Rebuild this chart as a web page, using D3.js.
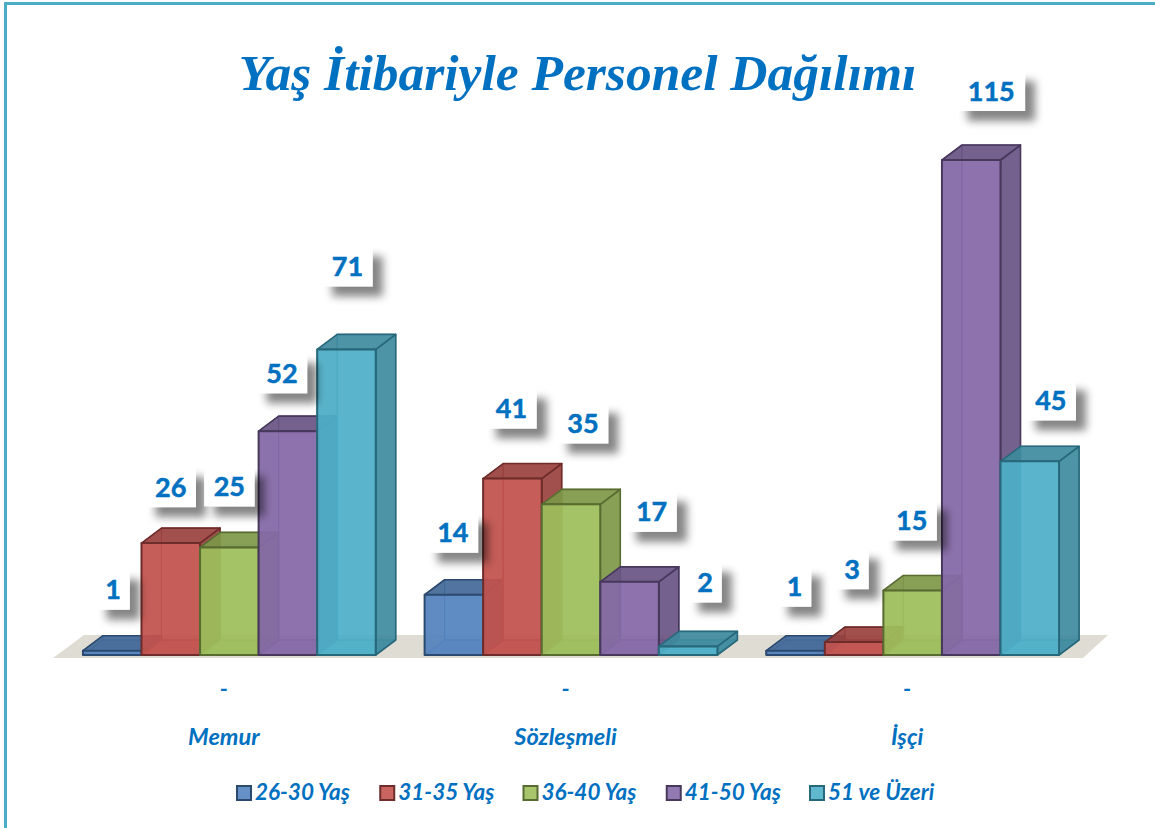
<!DOCTYPE html>
<html><head><meta charset="utf-8">
<script src="https://cdn.jsdelivr.net/npm/d3@7"></script>
<style>html,body{margin:0;padding:0;background:#fff;overflow:hidden}svg{display:block}</style>
</head><body><svg id="c" width="1155" height="828"></svg>
<script>
const titleText = "Yaş İtibariyle Personel Dağılımı";
const categories = ["Memur", "Sözleşmeli", "İşçi"];
const seriesNames = ["26-30 Yaş", "31-35 Yaş", "36-40 Yaş", "41-50 Yaş", "51 ve Üzeri"];
const memur = [1, 26, 25, 52, 71];
const sozlesmeli = [14, 41, 35, 17, 2];
const isci = [1, 3, 15, 115, 45];
const tableRows = [memur, sozlesmeli, isci];
const fills = ["#5585c0", "#c4534f", "#9fbf5c", "#866aa8", "#4fb0ca"];
const strokes = ["#2c4a70", "#6e2c2a", "#586b31", "#47385c", "#27687a"];
// manual label placement, as in the original chart (offset from bar centre / bar top)
const labelNudgeX = [[1,0,0,-6,1],[-1,-1,12,22,17],[-1,-2,-1,20,21]];
const labelLift = [[61,56,61,58,83],[62,70,81,70,64],[64,73,70,69,61]];

const W = 1155, H = 828, TEAL = "#4bacc6", BLUE = "#0070c0";
const FONT = "Lato, 'Open Sans', sans-serif";
const svg = d3.select("#c");
const defs = svg.append("defs");
defs.append("filter").attr("id","sh").attr("x","-40%").attr("y","-40%").attr("width","220%").attr("height","220%")
  .append("feDropShadow").attr("dx",10).attr("dy",10).attr("stdDeviation",4)
  .attr("flood-color","#000").attr("flood-opacity",0.48);

svg.append("rect").attr("x",5.5).attr("y",3.5).attr("width",W+20).attr("height",H+20)
  .attr("fill","#fff").attr("stroke",TEAL).attr("stroke-width",3);

const x0 = d3.scaleBand().domain(categories).range([58.5,1083.5]).paddingInner(0.143).paddingOuter(0.0715);
const x1 = d3.scaleBand().domain(seriesNames).range([0,x0.bandwidth()]);
const y = d3.scaleLinear().domain([0,115]).range([655,160]);
const DX = 20, DY = -15;
const base = y(0);

svg.append("polygon")
  .attr("points",[[53,658],[84,635],[1108,635],[1083,658]].join(" "))
  .attr("fill","#dfdcd3");

const poly = (pts,fill,op,stroke,sw,g) => g.append("polygon").attr("points",pts.join(" "))
  .attr("fill",fill).attr("fill-opacity",op).attr("stroke",stroke).attr("stroke-width",sw).attr("stroke-linejoin","round");

categories.forEach((c,i)=>{
  seriesNames.forEach((s,k)=>{
    const v = tableRows[i][k];
    const l = x0(c)+x1(s), r = l+x1.bandwidth(), t = y(v);
    const g = svg.append("g");
    const col = d3.color(fills[k]);
    const dark = col.darker(0.7).formatHex();
    const mid = col.darker(0.3).formatHex();
    // back, left and floor seen through the translucent front
    poly([[l+DX,t+DY],[r+DX,t+DY],[r+DX,base+DY],[l+DX,base+DY]],mid,0.5,dark,1,g);
    poly([[l,t],[l+DX,t+DY],[l+DX,base+DY],[l,base]],dark,0.5,dark,1,g);
    poly([[l,base],[r,base],[r+DX,base+DY],[l+DX,base+DY]],mid,0.7,dark,1,g);
    // right and top
    poly([[r,t],[r+DX,t+DY],[r+DX,base+DY],[r,base]],dark,0.85,strokes[k],1.6,g);
    poly([[l,t],[r,t],[r+DX,t+DY],[l+DX,t+DY]],dark,0.85,strokes[k],1.6,g);
    // front
    poly([[l,t],[r,t],[r,base],[l,base]],fills[k],0.88,strokes[k],2,g);
  });
});

const labels = svg.append("g");
categories.forEach((c,i)=>{
  seriesNames.forEach((s,k)=>{
    const v = tableRows[i][k];
    const cx = x0(c)+x1(s)+x1.bandwidth()/2+labelNudgeX[i][k];
    const cy = y(v)-labelLift[i][k];
    const hw = 4+String(v).length*8.6+4, hh = 20;
    labels.append("rect").attr("x",cx-hw).attr("y",cy-hh).attr("width",hw*2).attr("height",hh*2)
      .attr("fill","#fff").attr("filter","url(#sh)");
    labels.append("text").attr("x",cx).attr("y",cy+9.5).attr("text-anchor","middle")
      .attr("font-family",FONT).attr("font-weight",700).attr("font-size",27).attr("fill",BLUE)
      .attr("stroke",BLUE).attr("stroke-width",0.5).text(v);
  });
});

const axisText = (sel,size) => sel.attr("font-family",FONT).attr("font-weight",700).attr("font-style","italic")
  .attr("font-size",size).attr("fill",BLUE);
categories.forEach(c=>{
  const cx = x0(c)+x0.bandwidth()/2-5.5;
  svg.append("text").attr("x",cx).attr("y",697).attr("text-anchor","middle").call(axisText,23.5).text("-");
  svg.append("text").attr("x",cx).attr("y",745).attr("text-anchor","middle").call(axisText,23.5).text(c);
});

const legendX = d3.scalePoint().domain(seriesNames).range([236,809]);
seriesNames.forEach((s,k)=>{
  const lx = legendX(s);
  svg.append("rect").attr("x",lx+1).attr("y",786).attr("width",14).attr("height",14)
    .attr("fill",fills[k]).attr("fill-opacity",0.9).attr("stroke",strokes[k]).attr("stroke-width",2);
  svg.append("text").attr("x",lx+19).attr("y",800).call(axisText,22.5).text(s);
});

svg.append("text").attr("x",577.5).attr("y",90).attr("text-anchor","middle")
  .attr("font-family","'Liberation Serif', serif").attr("font-weight",700).attr("font-style","italic")
  .attr("font-size",51.5).attr("fill",BLUE).text(titleText);
</script></body></html>
